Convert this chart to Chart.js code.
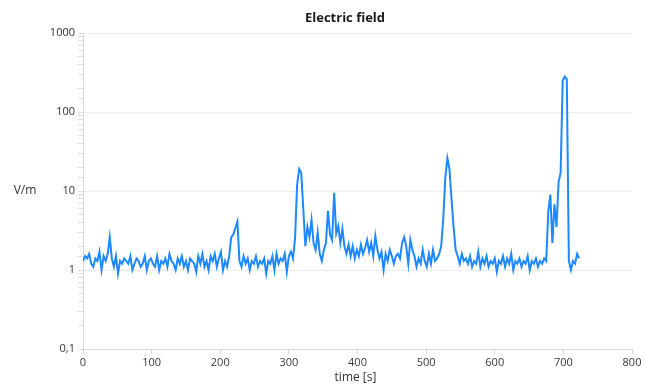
<!DOCTYPE html>
<html>
<head>
<meta charset="utf-8">
<script src="https://cdn.jsdelivr.net/npm/chart.js@4/dist/chart.umd.min.js"></script>
<style>
  html, body { margin: 0; padding: 0; background: #fff; }
  #wrap { width: 646px; height: 385px; position: relative; }
</style>
</head>
<body>
<div id="wrap"><canvas id="fieldChart"></canvas></div>
<script>
// Sampling: one reading every 3 s, starting at t = 0
const startTime = 0;
const sampleStep = 3;

// Electric field readings [V/m] (rows of 30 s)
const fieldValues = [
  1.3, 1.5, 1.4, 1.6, 1.2, 1.1, 1.4, 1.3, 1.7, 1.0,   // 0..27
  1.5, 1.3, 1.6, 2.6, 1.4, 1.1, 1.5, 0.9, 1.3, 1.2,   // 30..57
  1.4, 1.3, 1.2, 1.5, 1.0, 1.2, 1.4, 1.3, 1.1, 1.2,   // 60..87
  1.5, 1.0, 1.3, 1.4, 1.2, 1.1, 1.5, 1.0, 1.3, 1.2,   // 90..117
  1.4, 1.1, 1.6, 1.3, 1.2, 1.0, 1.4, 1.2, 1.5, 1.1,   // 120..147
  1.3, 1.0, 1.4, 1.3, 1.2, 0.95, 1.5, 1.2, 1.6, 1.1,  // 150..177
  1.3, 1.0, 1.5, 1.3, 1.6, 1.1, 1.4, 1.7, 1.0, 1.3,   // 180..207
  1.1, 1.5, 2.6, 2.8, 3.4, 4.1, 1.3, 1.1, 1.5, 1.2,   // 210..237
  1.4, 1.0, 1.3, 1.2, 1.5, 1.1, 1.3, 1.2, 1.4, 0.9,   // 240..267
  1.3, 1.2, 1.5, 1.0, 1.6, 1.2, 1.4, 1.3, 1.6, 0.95,  // 270..297
  1.5, 1.7, 1.4, 2.5, 12, 19, 17, 6, 2.0, 3.5,        // 300..327
  2.6, 4.3, 2.2, 1.8, 3.0, 1.6, 1.3, 1.8, 2.2, 5.6,   // 330..357
  2.8, 2.4, 9.5, 2.9, 3.6, 2.2, 3.3, 2.0, 1.6, 2.1,   // 360..387
  1.5, 2.0, 1.4, 1.8, 1.5, 2.1, 1.6, 1.9, 2.4, 1.7,   // 390..417
  2.2, 1.5, 2.7, 1.8, 1.4, 1.7, 1.0, 1.6, 1.3, 1.8,   // 420..447
  1.5, 1.2, 1.5, 1.6, 1.4, 2.2, 2.6, 2.0, 1.2, 2.4,   // 450..477
  1.8, 1.5, 1.1, 1.4, 1.2, 1.8, 1.3, 1.1, 1.6, 1.2,   // 480..507
  1.8, 1.3, 1.4, 1.6, 2.0, 4.5, 15, 26, 19, 8,        // 510..537
  3.5, 1.8, 1.5, 1.2, 1.6, 1.3, 1.4, 1.2, 1.5, 1.1,   // 540..567
  1.3, 1.2, 1.7, 1.1, 1.4, 1.2, 1.5, 1.1, 1.3, 1.2,   // 570..597
  1.4, 0.95, 1.3, 1.2, 1.5, 1.1, 1.4, 1.2, 1.6, 1.0,  // 600..627
  1.3, 1.2, 1.4, 1.1, 1.3, 1.2, 1.5, 1.0, 1.3, 1.2,   // 630..657
  1.4, 1.1, 1.3, 1.2, 1.4, 1.3, 5.5, 9.0, 2.2, 6.8,   // 660..687
  3.5, 13, 17, 250, 280, 260, 1.3, 1.0, 1.3, 1.2,     // 690..717
  1.6, 1.4                                            // 720..723
];

const xTicks = [0, 100, 200, 300, 400, 500, 600, 700, 800];
const yDecades = [0.1, 1, 10, 100, 1000];

const chartTitle = 'Electric field';
const xTitle = 'time [s]';
const yTitle = 'V/m';

const points = fieldValues.map((v, i) => ({ x: startTime + i * sampleStep, y: v }));

const isDecade = v => yDecades.some(d => Math.abs(v - d) < d * 1e-6);

// text labels drawn at fixed spots like the original export
const labelsPlugin = {
  id: 'labels',
  afterDraw(chart) {
    const c = chart.ctx;
    const area = chart.chartArea;
    c.save();
    c.fillStyle = '#1a1a1a';
    c.textAlign = 'center';
    c.textBaseline = 'middle';
    c.font = 'bold 13px "Open Sans", sans-serif';
    c.fillText(chartTitle, 345, 18);
    c.font = '12px "Open Sans", sans-serif';
    c.fillStyle = '#333';
    c.fillText(xTitle, (area.left + area.right) / 2 - 2, 378);
    c.fillText(yTitle, 25, (area.top + area.bottom) / 2);
    c.restore();
  }
};

new Chart(document.getElementById('fieldChart'), {
  type: 'line',
  data: {
    datasets: [{
      label: 'E',
      data: points,
      borderColor: 'rgb(30,136,255)',
      borderWidth: 2,
      pointRadius: 0,
      tension: 0,
      fill: false
    }]
  },
  options: {
    responsive: true,
    maintainAspectRatio: false,
    animation: false,
    layout: { padding: { top: 33, right: 14, bottom: 0, left: 0 } },
    plugins: {
      legend: { display: false },
      tooltip: { enabled: false }
    },
    scales: {
      x: {
        type: 'linear',
        min: 0,
        max: 800,
        afterFit(scale) { scale.height = 36; },
        afterBuildTicks(scale) { scale.ticks = xTicks.map(v => ({ value: v })); },
        grid: { drawOnChartArea: false, color: '#d9d9d9', tickLength: 5 },
        border: { color: '#d9d9d9' },
        ticks: {
          color: '#3a3a3a',
          font: { family: '"Open Sans", sans-serif', size: 11 },
          padding: 2,
          maxRotation: 0
        }
      },
      y: {
        type: 'logarithmic',
        min: 0.1,
        max: 1000,
        afterFit(scale) { scale.width = 83; },
        grid: {
          color: ctx => (ctx.tick && isDecade(ctx.tick.value)) ? '#ececec' : 'rgba(0,0,0,0)',
          tickColor: '#dedede',
          tickLength: 5,
          lineWidth: 1
        },
        border: { color: '#d9d9d9' },
        ticks: {
          autoSkip: false,
          color: '#333',
          font: { family: '"Open Sans", sans-serif', size: 11 },
          padding: 3,
          callback: v => isDecade(v) ? String(v).replace('.', ',') : ''
        }
      }
    }
  },
  plugins: [labelsPlugin]
});
</script>
</body>
</html>
